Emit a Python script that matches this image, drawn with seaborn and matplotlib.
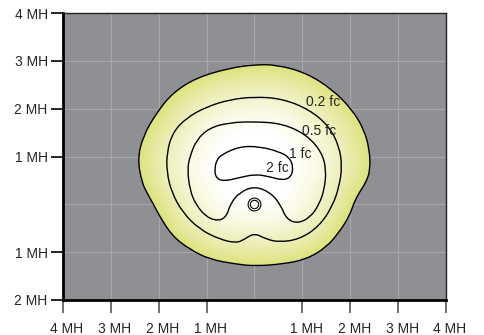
import numpy as np
import pandas as pd
import seaborn as sns
import matplotlib.pyplot as plt
from matplotlib.path import Path
from matplotlib.patches import PathPatch
from matplotlib.colors import LinearSegmentedColormap
from matplotlib.transforms import ScaledTranslation

# Isofootcandle contours, in mounting heights (MH)
outer_x = [0.00, 0.46, 1.08, 1.63, 2.04, 2.29, 2.40, 2.42, 2.33, 2.19, 2.08, 1.98, 1.77, 1.50, 1.08, 0.58,
           0.00, -0.38, -0.94, -1.35, -1.71, -1.98, -2.13, -2.25, -2.35, -2.44, -2.33, -2.04, -1.71, -1.21, -0.52]
outer_y = [2.92, 2.92, 2.75, 2.40, 1.98, 1.56, 1.15, 0.73, 0.46, 0.25, 0.04, -0.25, -0.58, -0.90, -1.15, -1.25,
           -1.29, -1.25, -1.15, -0.94, -0.67, -0.25, 0.04, 0.25, 0.46, 0.94, 1.42, 1.92, 2.33, 2.65, 2.85]

half_x = [0.00, 0.58, 1.15, 1.56, 1.77, 1.83, 1.77, 1.63, 1.35, 0.94, 0.52, 0.25, 0.00,
          -0.21, -0.38, -0.73, -1.15, -1.50, -1.73, -1.83, -1.83, -1.71, -1.42, -1.00, -0.52]
half_y = [2.25, 2.21, 1.98, 1.63, 1.21, 0.79, 0.38, -0.04, -0.46, -0.73, -0.79, -0.73, -0.60,
          -0.73, -0.81, -0.73, -0.52, -0.17, 0.25, 0.67, 1.08, 1.50, 1.81, 2.04, 2.19]

one_x = [0.00, 0.58, 1.08, 1.40, 1.50, 1.46, 1.35, 1.17, 0.90, 0.67, 0.54, 0.33, 0.00,
         -0.31, -0.50, -0.58, -0.75, -1.00, -1.23, -1.35, -1.40, -1.35, -1.21, -0.94, -0.52]
one_y = [1.73, 1.69, 1.46, 1.10, 0.73, 0.31, 0.00, -0.27, -0.40, -0.31, 0.00, 0.25, 0.38,
         0.25, 0.02, -0.25, -0.35, -0.27, 0.00, 0.31, 0.73, 1.00, 1.35, 1.60, 1.71]

two_x = [-0.69, -0.31, 0.10, 0.52, 0.73, 0.81, 0.77, 0.60, 0.31, 0.02, -0.31, -0.65, -0.81, -0.83, -0.79]
two_y = [1.04, 1.21, 1.21, 1.10, 0.98, 0.79, 0.58, 0.50, 0.58, 0.63, 0.56, 0.48, 0.56, 0.75, 0.92]

levels = ["0.2 fc", "0.5 fc", "1 fc", "2 fc"]
label_x = [1.44, 1.35, 0.96, 0.48]
label_y = [2.15, 1.53, 1.06, 0.77]

luminaire_x = [0.0]
luminaire_y = [0.0]

x_ticks = [-4, -3, -2, -1, 1, 2, 3, 4]
x_labels = ["4 MH", "3 MH", "2 MH", "1 MH", "1 MH", "2 MH", "3 MH", "4 MH"]
y_ticks = [-2, -1, 1, 2, 3, 4]
y_labels = ["2 MH", "1 MH", "1 MH", "2 MH", "3 MH", "4 MH"]


def closed_curve(xs, ys):
    """Smooth closed path using the read points as quadratic control points."""
    pts = np.column_stack([xs, ys])
    mids = (pts + np.roll(pts, -1, axis=0)) / 2
    verts = [mids[-1]]
    codes = [Path.MOVETO]
    for p, m in zip(pts, mids):
        verts += [p, m]
        codes += [Path.CURVE3, Path.CURVE3]
    return Path(verts, codes)


sns.set_style("white")
plt.rcParams['font.family'] = ['Liberation Sans', 'DejaVu Sans']

fig, ax = plt.subplots(figsize=(4.84, 3.35), dpi=100)
fig.subplots_adjust(left=0.130, right=0.9215, bottom=0.1045, top=0.961)
ax.set_facecolor('#8f9094')

# gradient fill: white in the middle, yellow toward the outer contour
cx, cy = 0.0, 0.75
ox, oy = np.array(outer_x), np.array(outer_y)
ang = np.arctan2(oy - cy, ox - cx)
rad = np.hypot(ox - cx, oy - cy)
order = np.argsort(ang)
gx = np.linspace(-2.7, 2.7, 500)
gy = np.linspace(-1.5, 3.1, 450)
GX, GY = np.meshgrid(gx, gy)
theta = np.arctan2(GY - cy, GX - cx)
r_edge = np.interp(theta, ang[order], rad[order], period=2 * np.pi)
T = np.hypot(GX - cx, GY - cy) / r_edge

cmap = LinearSegmentedColormap.from_list(
    "fc", [(0.0, "#ffffff"), (0.35, "#ffffff"), (0.55, "#fafae4"),
           (0.75, "#eef0bd"), (0.9, "#e5e899"), (1.0, "#dde27a")])
im = ax.imshow(T, extent=(gx[0], gx[-1], gy[0], gy[-1]), origin='lower',
               cmap=cmap, vmin=0, vmax=1, zorder=1, interpolation='bilinear')

contours = [(outer_x, outer_y), (half_x, half_y), (one_x, one_y), (two_x, two_y)]
patches = []
for xs, ys in contours:
    patch = PathPatch(closed_curve(xs, ys), facecolor='none', edgecolor='black',
                      linewidth=1.0, zorder=3)
    ax.add_patch(patch)
    patches.append(patch)
im.set_clip_path(patches[0])

for txt, lx, ly in zip(levels, label_x, label_y):
    ax.text(lx, ly, txt, ha='center', va='center', fontsize=10, zorder=5)

# luminaire
lum = pd.DataFrame({"x": luminaire_x, "y": luminaire_y})
sns.scatterplot(data=lum, x="x", y="y", s=85, color='#fdfdf3', edgecolor='black',
                linewidth=0.8, ax=ax, zorder=4)
sns.scatterplot(data=lum, x="x", y="y", s=36, color='#fdfdf3', edgecolor='black',
                linewidth=0.8, ax=ax, zorder=4)

ax.set_aspect('auto')
ax.set_xlim(-4, 4)
ax.set_ylim(-2, 4)
ax.set_xlabel("")
ax.set_ylabel("")

ax.set_xticks(range(-4, 5), minor=True)
ax.set_yticks(range(-2, 5), minor=True)
ax.set_xticks(x_ticks)
ax.set_xticklabels(x_labels)
ax.set_yticks(y_ticks)
ax.set_yticklabels(y_labels)
ax.grid(which='both', color='#a6a7ab', linewidth=0.8)
ax.set_axisbelow(True)
ax.tick_params(which='minor', length=0)
ax.tick_params(axis='x', which='major', bottom=True, direction='out', length=9, width=1.2,
               color='#555555', labelsize=10, pad=7)
ax.tick_params(axis='y', which='major', left=True, direction='out', length=9, width=1.2,
               color='black', labelsize=10, pad=2)

# x labels sit a little right of their ticks in the original
shift = ScaledTranslation(4 / 100, 0, fig.dpi_scale_trans)
for lab in ax.get_xticklabels():
    lab.set_transform(lab.get_transform() + shift)

for side in ['left', 'bottom']:
    ax.spines[side].set_linewidth(2.0)
    ax.spines[side].set_color('black')
for side in ['top', 'right']:
    ax.spines[side].set_linewidth(1.0)
    ax.spines[side].set_color('#222222')

fig.savefig("out.png", dpi=100)
